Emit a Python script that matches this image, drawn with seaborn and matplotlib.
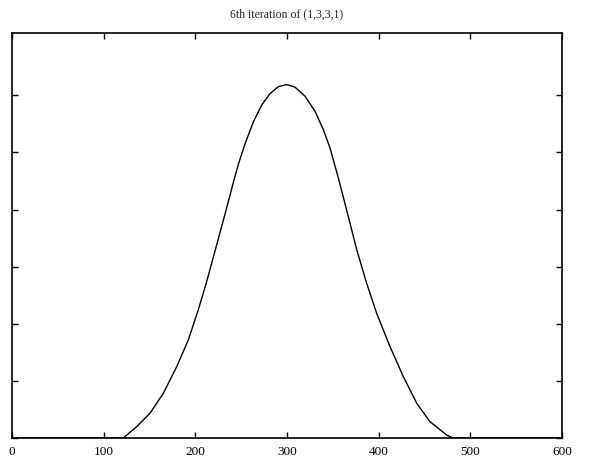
import numpy as np
import pandas as pd
import matplotlib
matplotlib.use("Agg")
import matplotlib.pyplot as plt
import seaborn as sns

# Values
x_vals = [0, 60, 121.4, 136.0, 150.5, 165.1, 179.7, 192.3, 203.2, 212.4,
          223.3, 234.2, 241.4, 246.9, 254.2, 263.2, 272.4, 281.5, 290.5,
          299.7, 308.7, 319.6, 330.5, 339.6, 346.9, 356.0, 366.9, 376.0,
          386.9, 397.8, 412.4, 426.9, 441.5, 456.0, 474.2, 481.1, 540, 600]
y_vals = [0.0, 0.0, 0.0, 0.0198, 0.0433, 0.0783, 0.1249, 0.1716, 0.2242,
          0.2740, 0.3380, 0.4030, 0.4470, 0.4790, 0.5150, 0.5530, 0.5830,
          0.6030, 0.6150, 0.6187, 0.6142, 0.5984, 0.5722, 0.5400, 0.5079,
          0.4553, 0.3876, 0.3300, 0.2709, 0.2184, 0.1599, 0.1074, 0.0608,
          0.0285, 0.0053, 0.0, 0.0, 0.0]
x_ticks = [0, 100, 200, 300, 400, 500, 600]
y_ticks = [0.0, 0.1, 0.2, 0.3, 0.4, 0.5, 0.6]
title = "6th iteration of (1,3,3,1)"

df = pd.DataFrame({"x": x_vals, "y": y_vals})

sns.set_theme(style="white")
plt.rcParams["font.family"] = ["Liberation Serif", "DejaVu Serif"]

fig = plt.figure(figsize=(5.89, 4.66), dpi=100)
ax = fig.add_axes([12/589, 28/466, 550/589, 405/466])
sns.lineplot(data=df, x="x", y="y", ax=ax, color="black", linewidth=1.0)

ax.set_xlim(0, 600)
ax.set_ylim(0, 0.709)
ax.set_xticks(x_ticks)
ax.set_xticklabels([str(t) for t in x_ticks], fontsize=9.5)
ax.set_yticks(y_ticks)
ax.set_yticklabels([])
ax.set_xlabel("")
ax.set_ylabel("")
ax.tick_params(direction="in", length=4, width=1, colors="black",
               top=True, right=True, bottom=True, left=True, pad=6)
for s in ax.spines.values():
    s.set_color("black")
    s.set_linewidth(1.2)
    s.set_visible(True)
ax.set_title(title, fontsize=8.5, pad=11)

fig.savefig("out.png", dpi=100, facecolor="white")
